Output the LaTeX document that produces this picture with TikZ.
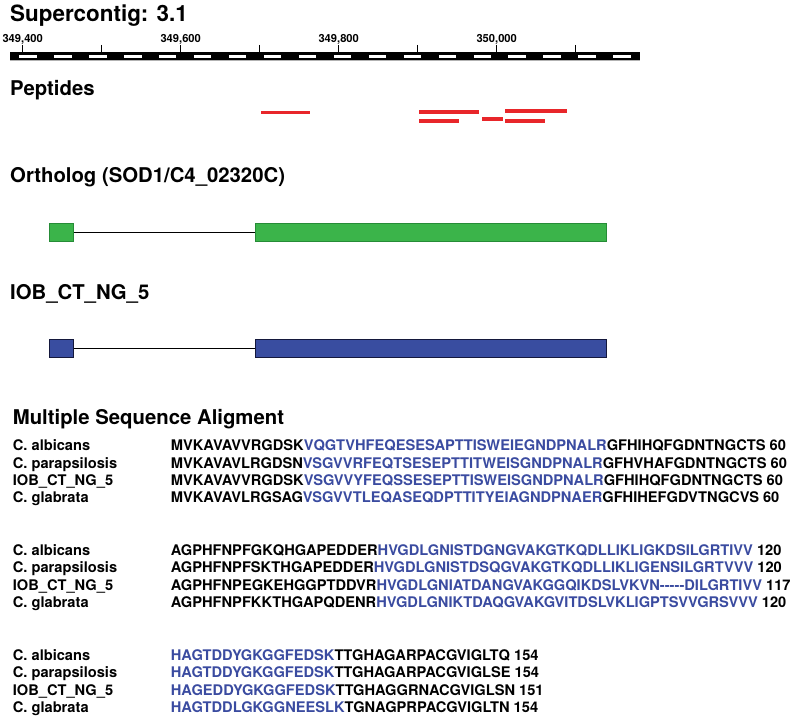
\documentclass[tikz,border=0pt]{standalone}
\usepackage{fontspec}
\setmainfont{TeX Gyre Heros}
\usetikzlibrary{positioning}
\definecolor{exgreen}{RGB}{59,180,74}
\definecolor{exgreenline}{RGB}{38,140,55}
\definecolor{exblue}{RGB}{57,77,160}
\definecolor{exblueline}{RGB}{20,24,60}
\definecolor{seqblue}{RGB}{58,75,160}
\definecolor{pepred}{RGB}{232,38,42}
\newcommand{\bl}[1]{\textcolor{seqblue}{#1}}

\begin{document}
\begin{tikzpicture}[x=1bp,y=-1bp,
  title/.style={anchor=base west,inner sep=0pt,font=\bfseries\fontsize{20.4}{24}\selectfont},
  seq/.style={anchor=base west,inner sep=0pt,font=\bfseries\fontsize{14.7}{17}\selectfont},
  exon/.style={draw,line width=0.9bp,minimum height=18bp,inner sep=0pt,anchor=north west},
  intron/.style={line width=0.9bp}]
\useasboundingbox (0,0) rectangle (792,718);

% scale bar
\node[title,font=\bfseries\fontsize{22.5}{26}\selectfont] (contig) at (10,22) {Supercontig: 3.1};
\fill[black] (10,52.3) rectangle (640,60);
\draw[gray!60,line width=0.6bp] (10,60.3) -- (640,60.3);
\foreach \i in {0,...,17}
  \fill[white] ({19.3+34.94*\i},54.7) rectangle ++(17.4,3.3);
\foreach \k in {0,...,7}
  \draw[line width=1bp] ({22.7+79*\k},45) --++(0,7.3);
\foreach \k/\lab in {0/{349,400},2/{349,600},4/{349,800},6/{350,000}}
  \node[anchor=base,inner sep=0pt,font=\bfseries\fontsize{11.2}{13}\selectfont] at ({22.7+79*\k},42.6) {\lab};

% peptides
\node[title] (pep) at (10,96) {Peptides};
\fill[pepred] (260.7,110.7) rectangle (310,114.5);
\fill[pepred] (419,110) rectangle (479,114);
\fill[pepred] (419,119) rectangle (459.3,123);
\fill[pepred] (481.7,117.3) rectangle (502.7,121.3);
\fill[pepred] (505.3,109) rectangle (567.3,113);
\fill[pepred] (505.3,119) rectangle (545,123);

% gene models
\node[title] (orth) at (10,182) {Ortholog (SOD1/C4\_02320C)};
\node[exon,fill=exgreen,draw=exgreenline,minimum width=23.4bp] (og1) at (49.3,222.7) {};
\node[exon,fill=exgreen,draw=exgreenline,minimum width=351bp] (og2) at (255,222.7) {};
\draw[intron] (og1.east) -- (og2.west);

\node[title] (iob) at (10,299) {IOB\_CT\_NG\_5};
\node[exon,fill=exblue,draw=exblueline,minimum width=23.4bp] (ib1) at (49.3,339.3) {};
\node[exon,fill=exblue,draw=exblueline,minimum width=351bp] (ib2) at (255,339.3) {};
\draw[intron] (ib1.east) -- (ib2.west);

% alignment
\node[title] (msa) at (12.7,424) {Multiple Sequence Aligment};

\node[seq] (la1) at (12.7,450.6) {C. albicans};
\node[seq] (lb1) at (12.7,468) {C. parapsilosis};
\node[seq] (lc1) at (12.7,485.4) {IOB\_CT\_NG\_5};
\node[seq] (ld1) at (12.7,502.8) {C. glabrata};
\node[seq] (sa1) at (170.7,450.6) {MVKAVAVVRGDSK\bl{VQGTVHFEQESESAPTTISWEIEGNDPNALR}GFHIHQFGDNTNGCTS 60};
\node[seq] (sb1) at (170.7,468) {MVKAVAVLRGDSN\bl{VSGVVRFEQTSESEPTTITWEISGNDPNALR}GFHVHAFGDNTNGCTS 60};
\node[seq] (sc1) at (170.7,485.4) {MVKAVAVVRGDSK\bl{VSGVVYFEQSSESEPTTISWEISGNDPNALR}GFHIHQFGDNTNGCTS 60};
\node[seq] (sd1) at (170.7,502.8) {MVKAVAVLRGSAG\bl{VSGVVTLEQASEQDPTTITYEIAGNDPNAER}GFHIHEFGDVTNGCVS 60};

\node[seq] (la2) at (12.7,555.4) {C. albicans};
\node[seq] (lb2) at (12.7,572.8) {C. parapsilosis};
\node[seq] (lc2) at (12.7,590.2) {IOB\_CT\_NG\_5};
\node[seq] (ld2) at (12.7,607.6) {C. glabrata};
\node[seq] (sa2) at (170.7,555.4) {AGPHFNPFGKQHGAPEDDER\bl{HVGDLGNISTDGNGVAKGTKQDLLIKLIGKDSILGRTIVV} 120};
\node[seq] (sb2) at (170.7,572.8) {AGPHFNPFSKTHGAPEDDER\bl{HVGDLGNISTDSQGVAKGTKQDLLIKLIGENSILGRTVVV} 120};
\node[seq] (sc2) at (170.7,590.2) {AGPHFNPEGKEHGGPTDDVR\bl{HVGDLGNIATDANGVAKGGQIKDSLVKVN-{}-{}-{}-{}-DILGRTIVV} 117};
\node[seq] (sd2) at (170.7,607.6) {AGPHFNPFKKTHGAPQDENR\bl{HVGDLGNIKTDAQGVAKGVITDSLVKLIGPTSVVGRSVVV} 120};

\node[seq] (la3) at (12.7,660.2) {C. albicans};
\node[seq] (lb3) at (12.7,677.6) {C. parapsilosis};
\node[seq] (lc3) at (12.7,695) {IOB\_CT\_NG\_5};
\node[seq] (ld3) at (12.7,712.4) {C. glabrata};
\node[seq] (sa3) at (170.7,660.2) {\bl{HAGTDDYGKGGFEDSK}TTGHAGARPACGVIGLTQ 154};
\node[seq] (sb3) at (170.7,677.6) {\bl{HAGTDDYGKGGFEDSK}TTGHAGARPACGVIGLSE 154};
\node[seq] (sc3) at (170.7,695) {\bl{HAGEDDYGKGGFEDSK}TTGHAGGRNACGVIGLSN 151};
\node[seq] (sd3) at (170.7,712.4) {\bl{HAGTDDLGKGGNEESLK}TGNAGPRPACGVIGLTN 154};
\end{tikzpicture}
\end{document}
